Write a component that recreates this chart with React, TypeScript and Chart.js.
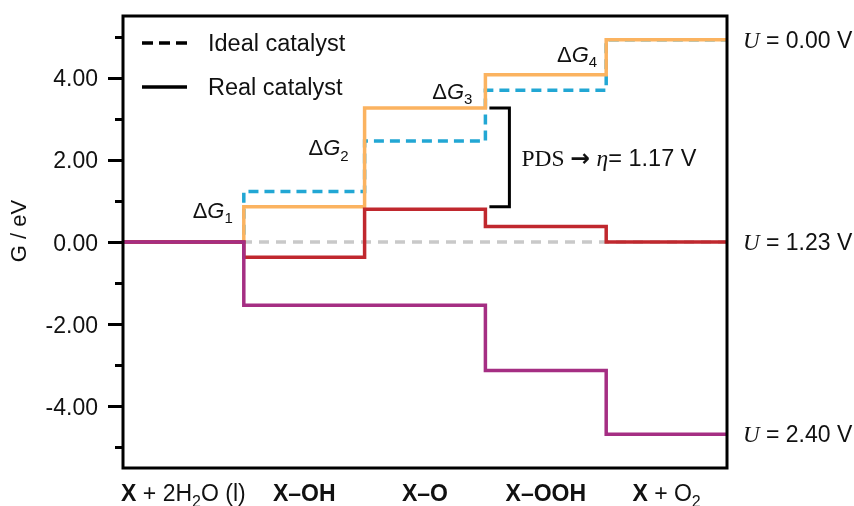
import React, { useEffect, useRef } from 'react';
import { Chart, registerables } from 'chart.js';

Chart.register(...registerables);

// Free-energy levels (eV) of the five OER states
const realU000 = [0, 0.86, 3.26, 4.07, 4.92];
const realU123 = [0, -0.37, 0.8, 0.38, 0];
const realU240 = [0, -1.54, -1.54, -3.13, -4.68];
const idealU000 = [0, 1.23, 2.46, 3.69, 4.92];
const idealU123 = [0, 0, 0, 0, 0];
const equilibriumPotential = 1.23;

const potentialLabels = ['0.00', '1.23', '2.40'];
const yMajorTicks = [-4, -2, 0, 2, 4];
const yMinorTicks = [-5, -3, -1, 1, 3, 5];

type Run = { t: string; b?: boolean; i?: boolean; serif?: boolean; sub?: boolean; sym?: boolean };

// Reaction states along the x axis
const stateLabels: Run[][] = [
  [{ t: 'X', b: true }, { t: ' + 2H' }, { t: '2', sub: true }, { t: 'O (l)' }],
  [{ t: 'X–OH', b: true }],
  [{ t: 'X–O', b: true }],
  [{ t: 'X–OOH', b: true }],
  [{ t: 'X', b: true }, { t: ' + O' }, { t: '2', sub: true }],
];

// ΔG step annotations: step index, label centre (eV), gap to the step (px)
const stepNotes = [
  { step: 1, y: 0.78, gap: 11 },
  { step: 2, y: 2.3, gap: 16 },
  { step: 3, y: 3.68, gap: 13 },
  { step: 4, y: 4.58, gap: 9 },
];

const SANS = '"Liberation Sans", Arial, sans-serif';
const SERIF = '"Liberation Serif", "Times New Roman", serif';
const SYM = '"DejaVu Sans", sans-serif';
const INK = '#111111';

const COLORS = {
  orange: '#FBB360',
  blue: '#22A7D4',
  red: '#C0282E',
  purple: '#A52E83',
  gray: '#C9C9C9',
};

function runFont(r: Run, size: number) {
  const s = r.sub ? Math.round(size * 0.68) : size;
  const fam = r.sym ? SYM : r.serif ? SERIF : SANS;
  return `${r.i ? 'italic ' : ''}${r.b ? 'bold ' : ''}${s}px ${fam}`;
}

function drawRuns(
  ctx: CanvasRenderingContext2D,
  runs: Run[],
  x: number,
  baseline: number,
  size: number,
  align: 'left' | 'center' | 'right'
) {
  let total = 0;
  const widths = runs.map((r) => {
    ctx.font = runFont(r, size);
    const w = ctx.measureText(r.t).width;
    total += w;
    return w;
  });
  let cx = align === 'left' ? x : align === 'right' ? x - total : x - total / 2;
  ctx.textAlign = 'left';
  ctx.textBaseline = 'alphabetic';
  runs.forEach((r, k) => {
    ctx.font = runFont(r, size);
    ctx.fillText(r.t, cx, baseline + (r.sub ? size * 0.24 : 0));
    cx += widths[k];
  });
}

function toSteps(vals: number[]) {
  const pts = vals.map((v, i) => ({ x: i, y: v }));
  pts.push({ x: vals.length, y: vals[vals.length - 1] });
  return pts;
}

const overlay = {
  id: 'overlay',
  afterDatasetsDraw(chart: any) {
    const { ctx, chartArea: a, scales } = chart;
    const xs = scales.x;
    const ys = scales.y;
    const px = (v: number) => xs.getPixelForValue(v);
    const py = (v: number) => ys.getPixelForValue(v);
    ctx.save();
    ctx.fillStyle = INK;
    ctx.strokeStyle = '#000';
    ctx.setLineDash([]);
    ctx.lineCap = 'butt';

    // plot frame
    ctx.lineWidth = 3;
    ctx.strokeRect(a.left, a.top, a.right - a.left, a.bottom - a.top);

    // y tick marks and labels
    ctx.lineWidth = 3;
    ctx.beginPath();
    yMajorTicks.forEach((v) => {
      const yy = Math.round(py(v)) + 0.5;
      ctx.moveTo(a.left - 15, yy);
      ctx.lineTo(a.left, yy);
    });
    yMinorTicks.forEach((v) => {
      const yy = Math.round(py(v)) + 0.5;
      ctx.moveTo(a.left - 8, yy);
      ctx.lineTo(a.left, yy);
    });
    ctx.stroke();
    yMajorTicks.forEach((v) => {
      drawRuns(ctx, [{ t: v.toFixed(2) }], a.left - 25, py(v) + 8.5, 23, 'right');
    });

    // y axis title
    ctx.save();
    ctx.translate(20, 231);
    ctx.rotate(-Math.PI / 2);
    ctx.font = `22px ${SANS}`;
    ctx.textAlign = 'center';
    ctx.textBaseline = 'middle';
    ctx.fillText('G / eV', 0, 0);
    ctx.restore();

    // state labels under the axis
    stateLabels.forEach((runs, i) => {
      drawRuns(ctx, runs, px(i + 0.5), a.bottom + 33, 23, 'center');
    });

    // legend
    ctx.lineWidth = 3.5;
    ctx.strokeStyle = '#000';
    ctx.setLineDash([11, 6]);
    ctx.beginPath();
    ctx.moveTo(a.left + 19, 43);
    ctx.lineTo(a.left + 64, 43);
    ctx.stroke();
    ctx.setLineDash([]);
    ctx.beginPath();
    ctx.moveTo(a.left + 19, 87);
    ctx.lineTo(a.left + 64, 87);
    ctx.stroke();
    drawRuns(ctx, [{ t: 'Ideal catalyst' }], a.left + 85, 51, 23.5, 'left');
    drawRuns(ctx, [{ t: 'Real catalyst' }], a.left + 85, 95, 23.5, 'left');

    // ΔG labels
    stepNotes.forEach((n) => {
      drawRuns(
        ctx,
        [{ t: 'Δ' }, { t: 'G', i: true }, { t: String(n.step), sub: true }],
        px(n.step) - n.gap,
        py(n.y) + 8,
        22,
        'right'
      );
    });

    // potential-determining step bracket
    let pds = 0;
    let maxStep = -Infinity;
    for (let i = 0; i < realU000.length - 1; i++) {
      const d = realU000[i + 1] - realU000[i];
      if (d > maxStep) {
        maxStep = d;
        pds = i;
      }
    }
    const eta = maxStep - equilibriumPotential;
    const bx0 = px(3) + 4;
    const bx1 = px(3) + 24;
    const byTop = py(realU000[pds + 1]);
    const byBot = py(realU000[pds]);
    ctx.lineWidth = 3;
    ctx.strokeStyle = '#000';
    ctx.lineJoin = 'miter';
    ctx.beginPath();
    ctx.moveTo(bx0, byTop);
    ctx.lineTo(bx1, byTop);
    ctx.lineTo(bx1, byBot);
    ctx.lineTo(bx0, byBot);
    ctx.stroke();
    drawRuns(
      ctx,
      [
        { t: 'PDS ', serif: true },
        { t: '→', sym: true, b: true },
        { t: ' ' },
        { t: 'η', serif: true, i: true },
        { t: '= ' + eta.toFixed(2) + ' V' },
      ],
      bx1 + 12,
      (byTop + byBot) / 2 + 9,
      23.5,
      'left'
    );

    // applied-potential labels
    const finals = [realU000, realU123, realU240].map((s) => s[s.length - 1]);
    finals.forEach((v, k) => {
      drawRuns(
        ctx,
        [{ t: 'U', serif: true, i: true }, { t: ' = ' + potentialLabels[k] + ' V' }],
        a.right + 16,
        py(v) + 8,
        23,
        'left'
      );
    });

    ctx.restore();
  },
};

export default function App() {
  const ref = useRef<HTMLCanvasElement | null>(null);

  useEffect(() => {
    if (!ref.current) return;
    const line = (data: number[], color: string, order: number, dash: number[] = []) => ({
      data: toSteps(data),
      borderColor: color,
      borderWidth: 3.5,
      borderDash: dash,
      borderCapStyle: 'butt' as const,
      stepped: 'before' as const,
      pointRadius: 0,
      fill: false,
      order,
    });
    const chart = new Chart(ref.current, {
      type: 'line',
      data: {
        datasets: [
          line(idealU123, COLORS.gray, 5, [10, 7]),
          line(idealU000, COLORS.blue, 4, [10, 6]),
          line(realU000, COLORS.orange, 3),
          line(realU123, COLORS.red, 2),
          line(realU240, COLORS.purple, 1),
        ],
      },
      options: {
        responsive: false,
        animation: false,
        events: [],
        layout: { padding: { left: 0, right: 127, top: 16, bottom: 38 } },
        plugins: { legend: { display: false }, tooltip: { enabled: false } },
        scales: {
          x: { type: 'linear', min: 0, max: 5, display: false },
          y: {
            type: 'linear',
            min: -5.5,
            max: 5.5,
            grid: { display: false, drawTicks: false },
            border: { display: false },
            ticks: { display: false },
            afterFit: (s: any) => {
              s.width = 123;
            },
          },
        },
      },
      plugins: [overlay],
    });
    return () => chart.destroy();
  }, []);

  return (
    <div style={{ position: 'absolute', left: 0, top: 0, width: 854, height: 506, background: '#fff' }}>
      <canvas ref={ref} width={854} height={506} />
    </div>
  );
}
